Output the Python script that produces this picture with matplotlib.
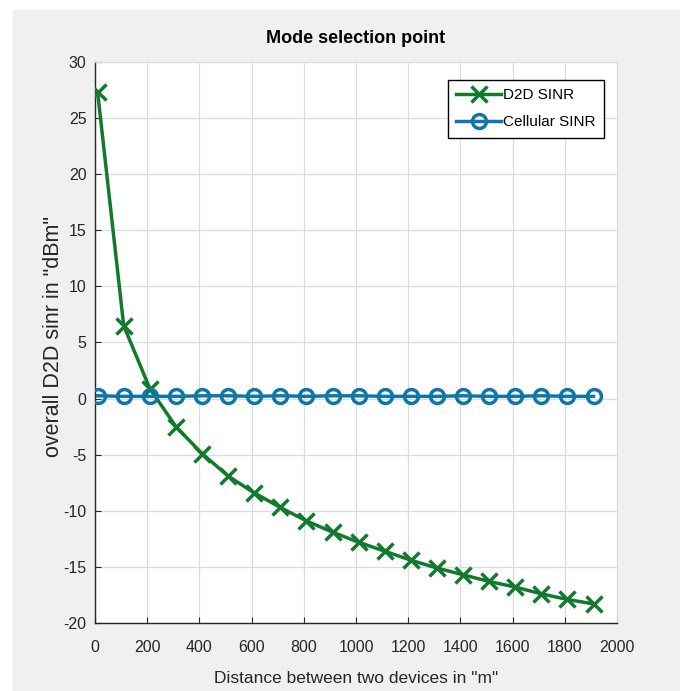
import matplotlib
matplotlib.use('Agg')
from matplotlib import pyplot as plt
from matplotlib.patches import Rectangle

# distance between devices (m)
distance = [10, 110, 210, 310, 410, 510, 610, 710, 810, 910,
            1010, 1110, 1210, 1310, 1410, 1510, 1610, 1710, 1810, 1910]
# values
d2d_sinr = [27.3, 6.5, 0.9, -2.5, -4.9, -6.9, -8.4, -9.7, -10.9, -11.9,
            -12.8, -13.6, -14.4, -15.1, -15.7, -16.3, -16.8, -17.4, -17.9, -18.3]
cell_sinr = [0.25, 0.2, 0.2, 0.2, 0.25, 0.25, 0.2, 0.25, 0.2, 0.25,
             0.25, 0.2, 0.2, 0.2, 0.25, 0.2, 0.2, 0.25, 0.2, 0.2]

xticks = [0, 200, 400, 600, 800, 1000, 1200, 1400, 1600, 1800, 2000]
yticks = [-20, -15, -10, -5, 0, 5, 10, 15, 20, 25, 30]

plt.rcParams['axes.unicode_minus'] = False
font = ['Liberation Sans', 'DejaVu Sans']
txt = '#262626'

fig = plt.figure(figsize=(6.86, 6.91), dpi=100)
# grey MATLAB figure area, white margin on top/left/right
fig.patches.append(Rectangle((13/686, 0), (679-13)/686, 1-10/691,
                             transform=fig.transFigure, color='#f0f0f0', zorder=-10))

ax = fig.add_axes([95/686, 1-623/691, (617-95)/686, (623-62)/691])
ax.set_facecolor('white')

ax.plot(distance, d2d_sinr, color='#127a2e', lw=2.5, marker='x', ms=11, mew=2.5,
        label='D2D SINR', zorder=3)
ax.plot(distance, cell_sinr, color='#0f76a8', lw=2.5, marker='o', ms=10, mew=2.5,
        mfc='none', label='Cellular SINR', zorder=3)

ax.set_xlim(0, 2000)
ax.set_ylim(-20, 30)
ax.set_xticks(xticks)
ax.set_yticks(yticks)
ax.grid(True, color='#dcdcdc', lw=0.9)
ax.set_axisbelow(True)
for s in ['top', 'right']:
    ax.spines[s].set_color('#dcdcdc')
for s in ['left', 'bottom']:
    ax.spines[s].set_color('#262626')
    ax.spines[s].set_linewidth(1.0)
ax.tick_params(direction='in', length=4, width=0.8, colors=txt, labelsize=11.5)
ax.tick_params(axis='x', pad=12)
ax.tick_params(axis='y', pad=6)
for lab in ax.get_xticklabels() + ax.get_yticklabels():
    lab.set_family(font)
    lab.set_color(txt)

ax.set_title('Mode selection point', fontsize=13, fontweight='bold', family=font,
             color='black', pad=14)
ax.set_xlabel('Distance between two devices in "m"', fontsize=12.5, family=font,
              color=txt, labelpad=12)
ax.set_ylabel('overall D2D sinr in "dBm"', fontsize=15.5, family=font, color=txt)
ax.yaxis.set_label_coords(-0.06, 0.51)

leg = ax.legend(loc='upper right', bbox_to_anchor=(0.975, 0.968), borderaxespad=0,
                fancybox=False, edgecolor='black', framealpha=1,
                prop={'family': font, 'size': 11},
                handlelength=2.9, handletextpad=0.15, borderpad=0.55, labelspacing=0.85)
leg.get_frame().set_linewidth(1.0)

fig.savefig('out.png', dpi=100)
